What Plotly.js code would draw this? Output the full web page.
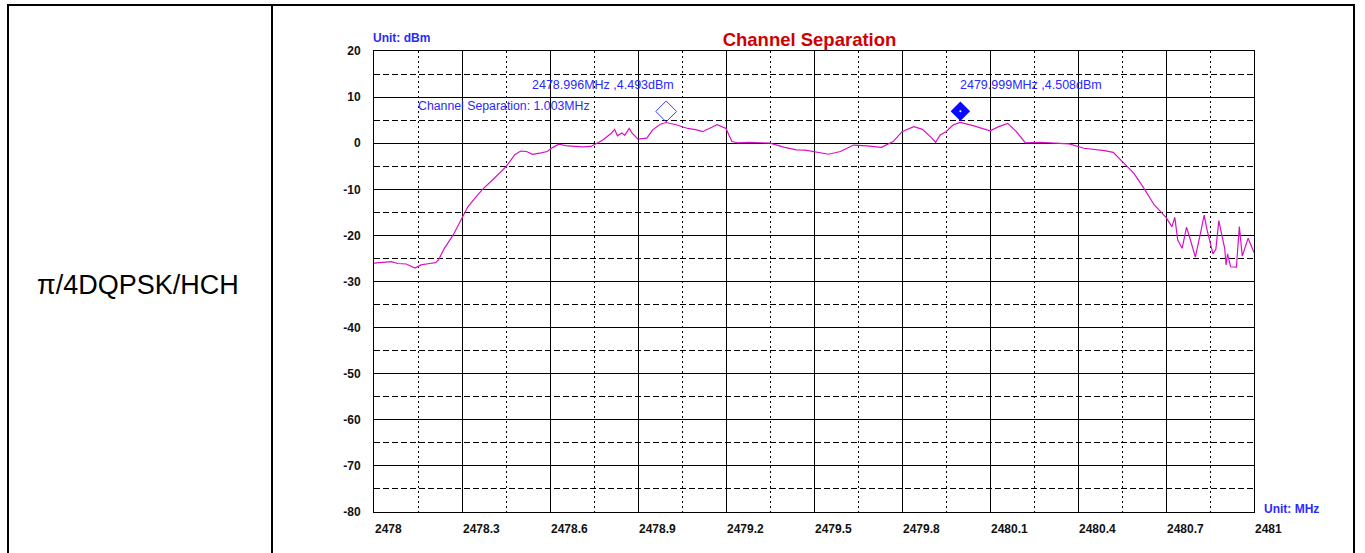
<!DOCTYPE html>
<html>
<head>
<meta charset="utf-8">
<script src="https://cdn.plot.ly/plotly-3.0.1.min.js"></script>
<style>
  html, body { margin: 0; padding: 0; background: #fff; width: 1365px; height: 553px; overflow: hidden; }
  #frame { position: absolute; left: 7px; top: 4px; width: 1348px; height: 560px; border: 2px solid #000; border-bottom: none; box-sizing: border-box; }
  #divider { position: absolute; left: 271px; top: 4px; width: 2px; height: 560px; background: #000; }
  #chart { position: absolute; left: 0; top: 0; width: 1365px; height: 553px; }
</style>
</head>
<body>
<div id="frame"></div>
<div id="divider"></div>
<div id="chart"></div>
<script>
// ---- data ----
const freqMHz = [
  2478.000, 2478.03, 2478.06, 2478.08, 2478.11, 2478.14, 2478.16, 2478.19, 2478.21, 2478.22,
  2478.24, 2478.27, 2478.29, 2478.32, 2478.35, 2478.37, 2478.41, 2478.45, 2478.48, 2478.50,
  2478.52, 2478.54, 2478.57, 2478.59, 2478.61, 2478.63, 2478.66, 2478.68, 2478.71, 2478.74,
  2478.76, 2478.78, 2478.81, 2478.82, 2478.83, 2478.845, 2478.855, 2478.87, 2478.88, 2478.90,
  2478.93, 2478.95, 2478.976, 2478.996, 2479.03, 2479.07, 2479.10, 2479.12, 2479.15, 2479.17,
  2479.20, 2479.22, 2479.24, 2479.28, 2479.32, 2479.35, 2479.40, 2479.44, 2479.47, 2479.50,
  2479.55, 2479.59, 2479.635, 2479.68, 2479.73, 2479.77, 2479.80, 2479.84, 2479.87, 2479.90,
  2479.915, 2479.93, 2479.95, 2479.975, 2479.999, 2480.045, 2480.10, 2480.13, 2480.16, 2480.19,
  2480.22, 2480.27, 2480.32, 2480.37, 2480.42, 2480.46, 2480.49, 2480.52, 2480.55, 2480.59,
  2480.625, 2480.66, 2480.70, 2480.72, 2480.73, 2480.74, 2480.755, 2480.77, 2480.78, 2480.80,
  2480.82, 2480.83, 2480.84, 2480.86, 2480.87, 2480.88, 2480.90, 2480.905, 2480.91, 2480.92,
  2480.94, 2480.95, 2480.96, 2480.98, 2481.00
];
const levelDBm = [
  -26.0, -25.8, -25.7, -26.1, -26.2, -27.1, -26.4, -26.1, -25.9, -25.3,
  -22.8, -19.9, -17.4, -13.8, -11.5, -10.0, -7.6, -5.1, -2.5, -1.7,
  -1.8, -2.4, -2.1, -1.8, -0.9, -0.2, -0.6, -0.7, -0.8, -0.7,
  0.0, 0.7, 2.2, 3.0, 1.6, 2.2, 1.7, 3.2, 2.2, 0.9,
  1.1, 2.9, 4.1, 4.49, 4.0, 3.2, 2.9, 2.5, 3.4, 4.0,
  3.2, 0.35, 0.1, 0.2, 0.1, 0.0, -0.9, -1.45, -1.5, -1.8,
  -2.4, -1.8, -0.4, -0.6, -0.9, 0.35, 2.5, 3.6, 3.0, 1.2,
  0.2, 1.8, 2.5, 4.0, 4.51, 3.75, 2.7, 3.6, 4.3, 2.5,
  0.1, 0.2, 0.1, -0.15, -1.1, -1.4, -1.6, -2.0, -4.0, -6.5,
  -9.8, -13.4, -16.1, -18.1, -16.1, -21.0, -22.8, -18.2, -20.3, -24.7,
  -18.8, -15.6, -18.8, -24.0, -23.0, -16.8, -22.8, -26.4, -24.0, -26.8,
  -26.9, -18.1, -24.5, -20.6, -23.7
];
const markerFreq = [2478.996, 2479.999];
const markerLevel = [4.493, 4.508];
const markerLabels = ["2478.996MHz ,4.493dBm", "2479.999MHz ,4.508dBm"];
const channelSeparation = "Channel Separation: 1.003MHz";
const rowLabel = "π/4DQPSK/HCH";
const xTickVals = [2478, 2478.3, 2478.6, 2478.9, 2479.2, 2479.5, 2479.8, 2480.1, 2480.4, 2480.7, 2481];
const xTickText = ["2478", "2478.3", "2478.6", "2478.9", "2479.2", "2479.5", "2479.8", "2480.1", "2480.4", "2480.7", "2481"];
const yTickVals = [20, 10, 0, -10, -20, -30, -40, -50, -60, -70, -80];

// ---- styling ----
const markerLift = 2.4; // dB the diamond sits above the peak
const blue = '#2a2aff';
const fontMain = 'Liberation Sans, Arial, sans-serif';

const traces = [
  {
    x: freqMHz, y: levelDBm, type: 'scatter', mode: 'lines',
    line: { color: '#d910c8', width: 1.2 }, hoverinfo: 'x+y', showlegend: false
  },
  {
    x: [markerFreq[0]], y: [markerLevel[0] + markerLift], type: 'scatter', mode: 'markers',
    marker: { symbol: 'diamond-open', size: 16, color: '#3c3cff', line: { width: 1, color: '#3c3cff' } },
    showlegend: false
  },
  {
    x: [markerFreq[1]], y: [markerLevel[1] + markerLift], type: 'scatter', mode: 'markers',
    marker: { symbol: 'diamond', size: 15, color: '#0a0aff', line: { width: 0 } },
    showlegend: false
  },
  {
    x: [markerFreq[1]], y: [markerLevel[1] + markerLift], type: 'scatter', mode: 'markers',
    marker: { symbol: 'circle', size: 2, color: '#ffffff', line: { width: 0 } },
    showlegend: false
  }
];

const layout = {
  width: 1365, height: 553,
  margin: { l: 374, r: 111, t: 51, b: 41, pad: 0 },
  paper_bgcolor: 'rgba(0,0,0,0)', plot_bgcolor: '#ffffff',
  showlegend: false,
  title: {
    text: '<b>Channel Separation</b>',
    font: { family: fontMain, size: 18.5, color: '#d00000' },
    x: 809.5 / 1365, xref: 'container', xanchor: 'center',
    y: 1 - 40 / 553, yref: 'container', yanchor: 'middle'
  },
  xaxis: {
    range: [2478, 2481], tickmode: 'array', tickvals: xTickVals,
    ticktext: xTickText.map(t => '<b>' + t + '</b>'),
    showgrid: true, gridcolor: '#000', gridwidth: 1,
    minor: { tick0: 2478, dtick: 0.15, showgrid: true, gridcolor: '#000', gridwidth: 1, griddash: '2px,3px' },
    showline: true, linecolor: '#000', linewidth: 1, mirror: true, zeroline: false,
    ticks: 'outside', ticklen: 9, tickcolor: 'rgba(0,0,0,0)',
    ticklabelposition: 'outside right', ticklabelstandoff: 6,
    tickfont: { family: fontMain, size: 12, color: '#111' }
  },
  yaxis: {
    range: [-80, 20], tickmode: 'array', tickvals: yTickVals,
    ticktext: yTickVals.map(v => '<b>' + v + '</b>'),
    showgrid: true, gridcolor: '#000', gridwidth: 1,
    minor: { tick0: 0, dtick: 5, showgrid: true, gridcolor: '#000', gridwidth: 1, griddash: '6px,3px' },
    showline: true, linecolor: '#000', linewidth: 1, mirror: true, zeroline: false,
    ticks: 'outside', ticklen: 10, tickcolor: 'rgba(0,0,0,0)',
    tickfont: { family: fontMain, size: 12, color: '#111' }
  },
  annotations: [
    { text: '<b>Unit: dBm</b>', xref: 'paper', yref: 'paper', x: -0.003, y: (512 - 38) / 461,
      xanchor: 'left', yanchor: 'middle', showarrow: false, font: { family: fontMain, size: 12, color: blue } },
    { text: '<b>Unit: MHz</b>', xref: 'paper', yref: 'paper', x: (1261 - 374) / 879, y: (512 - 509) / 461,
      xanchor: 'left', yanchor: 'middle', showarrow: false, font: { family: fontMain, size: 12, color: blue } },
    { text: markerLabels[0], xref: 'x', yref: 'y', x: markerFreq[0], y: markerLevel[0], xshift: 10, yshift: 37,
      xanchor: 'right', yanchor: 'middle', showarrow: false, font: { family: fontMain, size: 12.5, color: blue } },
    { text: markerLabels[1], xref: 'x', yref: 'y', x: markerFreq[1], y: markerLevel[1], xshift: -2, yshift: 37,
      xanchor: 'left', yanchor: 'middle', showarrow: false, font: { family: fontMain, size: 12.5, color: blue } },
    { text: channelSeparation, xref: 'paper', yref: 'paper', x: (416 - 374) / 879, y: (512 - 105.7) / 461,
      xanchor: 'left', yanchor: 'middle', showarrow: false, font: { family: fontMain, size: 12.3, color: blue } },
    { text: rowLabel, xref: 'paper', yref: 'paper', x: (138 - 374) / 879, y: (512 - 285) / 461,
      xanchor: 'center', yanchor: 'middle', showarrow: false, font: { family: fontMain, size: 27, color: '#000' } }
  ]
};

Plotly.newPlot('chart', traces, layout, { displayModeBar: false, staticPlot: true });
</script>
</body>
</html>
